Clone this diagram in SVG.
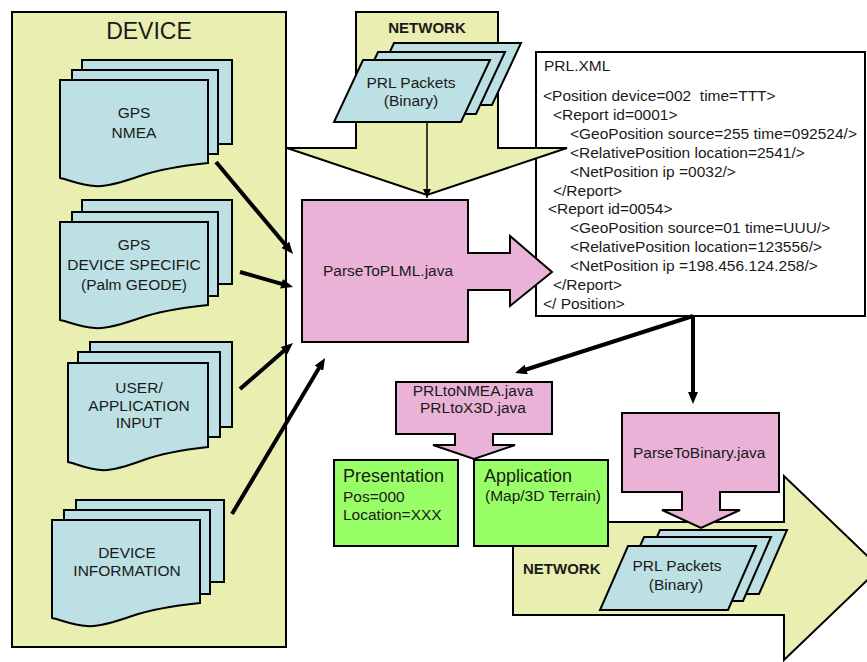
<svg xmlns="http://www.w3.org/2000/svg" xmlns:xlink="http://www.w3.org/1999/xlink" width="867" height="662" viewBox="0 0 867 662">
<style>
.doc{fill:#BCE0E3;stroke:#000;stroke-width:2;stroke-linejoin:miter}
.yel{fill:#E9EFB1;stroke:#000;stroke-width:2}
.pink{fill:#EBB2D7;stroke:#000;stroke-width:2}
.green{fill:#99FF66;stroke:#000;stroke-width:2}
.t{font-family:"Liberation Sans",Arial,sans-serif;font-size:15.5px;fill:#1a1a1a}
.c{text-anchor:middle}
.b{font-weight:bold;font-size:15px}
.big{font-size:18px}
.thick{stroke:#000;stroke-width:4;fill:none}
.thin{stroke:#000;stroke-width:1.5;fill:none}
</style>
<defs>
<path id="docF" d="M0,0 H148 V83 C120,86 100,89 80,96 C60,103 45,107 35,106 C20,105 10,100 0,98 Z"/>
<path id="pkt" d="M29,0 H156 L127,62 H0 Z"/>
<marker id="ah" markerUnits="userSpaceOnUse" markerWidth="12" markerHeight="10" refX="2" refY="5" orient="auto">
<path d="M0,0 L12,5 L0,10 Z" fill="#000"/>
</marker>
<marker id="ahs" markerUnits="userSpaceOnUse" markerWidth="9" markerHeight="8" refX="9" refY="4" orient="auto">
<path d="M0,0 L9,4 L0,8 Z" fill="#000"/>
</marker>
</defs>
<rect width="867" height="662" fill="#fff"/>

<g id="device">
<rect class="yel" x="12" y="12" width="274" height="635"/>
<text class="t c" x="149" y="39" style="font-size:23px">DEVICE</text>
</g>

<g id="gps-nmea">
<rect class="doc" x="82" y="60" width="150" height="84"/>
<rect class="doc" x="72" y="70" width="146" height="84"/>
<use href="#docF" x="60" y="80" class="doc"/>
<text class="t c" x="134" y="118">GPS</text>
<text class="t c" x="134" y="138">NMEA</text>
</g>

<g id="gps-device">
<rect class="doc" x="82" y="200" width="150" height="84"/>
<rect class="doc" x="72" y="212" width="146" height="84"/>
<use href="#docF" x="60" y="222" class="doc"/>
<text class="t c" x="134" y="250">GPS</text>
<text class="t c" x="134" y="270">DEVICE SPECIFIC</text>
<text class="t c" x="134" y="290">(Palm GEODE)</text>
</g>

<g id="user-input">
<rect class="doc" x="90" y="342" width="142" height="85"/>
<rect class="doc" x="78" y="352" width="142" height="85"/>
<path class="doc" transform="translate(68,363)" d="M0,0 H140 V84 C113.5,87 94.6,90 75.7,97 C56.8,104 42.6,108 33,107 C19,106 9.5,101 0,99 Z"/>
<text class="t c" x="139" y="393">USER/</text>
<text class="t c" x="139" y="410.5">APPLICATION</text>
<text class="t c" x="139" y="428">INPUT</text>
</g>

<g id="device-info">
<rect class="doc" x="76" y="500" width="148" height="82"/>
<rect class="doc" x="64" y="510" width="146" height="84"/>
<use href="#docF" x="52" y="520" class="doc"/>
<text class="t c" x="127" y="558">DEVICE</text>
<text class="t c" x="127" y="576">INFORMATION</text>
</g>

<g id="prl-xml">
<rect x="536" y="52" width="329" height="264" fill="#fff" stroke="#000" stroke-width="2"/>
<text class="t" x="544" y="71">PRL.XML</text>
<text class="t" x="543" y="101" xml:space="preserve">&lt;Position device=002  time=TTT&gt;</text>
<text class="t" x="553" y="120">&lt;Report id=0001&gt;</text>
<text class="t" x="570" y="139">&lt;GeoPosition source=255 time=092524/&gt;</text>
<text class="t" x="570" y="158">&lt;RelativePosition location=2541/&gt;</text>
<text class="t" x="570" y="177">&lt;NetPosition ip =0032/&gt;</text>
<text class="t" x="553" y="196">&lt;/Report&gt;</text>
<text class="t" x="548" y="214">&lt;Report id=0054&gt;</text>
<text class="t" x="570" y="233">&lt;GeoPosition source=01 time=UUU/&gt;</text>
<text class="t" x="570" y="252">&lt;RelativePosition location=123556/&gt;</text>
<text class="t" x="570" y="271">&lt;NetPosition ip =198.456.124.258/&gt;</text>
<text class="t" x="553" y="290">&lt;/Report&gt;</text>
<text class="t" x="543" y="309">&lt;/ Position&gt;</text>
</g>

<g id="network-top">
<path class="yel" d="M356,12 H498 V148 H567 L427,195 L287,148 H356 Z"/>
<text class="t c b" x="427" y="33">NETWORK</text>
</g>

<g id="packets-top">
<use href="#pkt" x="365" y="43" class="doc"/>
<use href="#pkt" x="349" y="52" class="doc"/>
<use href="#pkt" x="334" y="60" class="doc"/>
<text class="t c" x="411" y="88">PRL Packets</text>
<text class="t c" x="411" y="106">(Binary)</text>
</g>

<g id="parse-plml">
<path class="pink" d="M302,200 H468 V253 H510 V236 L552,272 L510,306 V290 H468 V342 H302 Z"/>
<text class="t" x="323" y="276">ParseToPLML.java</text>
</g>

<g id="network-bottom">
<path class="yel" d="M513,522 H784 V476 L880,568 L784,660 V615 H513 Z"/>
<text class="t b" x="523" y="574">NETWORK</text>
</g>

<g id="prl-nmea">
<path class="pink" d="M396,382 H552 V434 H493 V445 H515 L474,459 L433,445 H455 V434 H396 Z"/>
<text class="t c" x="473" y="396">PRLtoNMEA.java</text>
<text class="t c" x="473" y="413">PRLtoX3D.java</text>
</g>

<g id="presentation">
<rect class="green" x="334" y="460" width="124" height="86"/>
<text class="t big" x="343" y="482">Presentation</text>
<text class="t" x="343" y="502">Pos=000</text>
<text class="t" x="343" y="520">Location=XXX</text>
</g>

<g id="application">
<rect class="green" x="474" y="460" width="134" height="86"/>
<text class="t big" x="484" y="482">Application</text>
<text class="t" x="485" y="501">(Map/3D Terrain)</text>
</g>

<g id="parse-binary">
<path class="pink" d="M622,413 H779 V492 H720 V510 H740 L701,528 L662,510 H682 V492 H622 Z"/>
<text class="t" x="633" y="458">ParseToBinary.java</text>
</g>

<g id="packets-bottom">
<path class="doc" d="M660,530 H787 L759,594 H632 Z"/>
<path class="doc" d="M644,537 H771 L743,601 H616 Z"/>
<path class="doc" d="M628,546 H756 L728,610 H600 Z"/>
<text class="t c" x="677" y="571">PRL Packets</text>
<text class="t c" x="676" y="590">(Binary)</text>
</g>

<g id="connectors">
<line class="thin" x1="427" y1="122" x2="427" y2="198" marker-end="url(#ahs)"/>
<line class="thick" x1="216" y1="162" x2="286.6" y2="246.3" marker-end="url(#ah)"/>
<line class="thick" x1="240" y1="272" x2="283.4" y2="284.3" marker-end="url(#ah)"/>
<line class="thick" x1="240" y1="389" x2="285.4" y2="349.5" marker-end="url(#ah)"/>
<line class="thick" x1="232" y1="514" x2="319.9" y2="366.6" marker-end="url(#ah)"/>
<line class="thick" x1="693" y1="316" x2="693" y2="394" marker-end="url(#ah)"/>
<line class="thick" x1="693" y1="316" x2="524.5" y2="370" marker-end="url(#ah)"/>
</g>
</svg>
